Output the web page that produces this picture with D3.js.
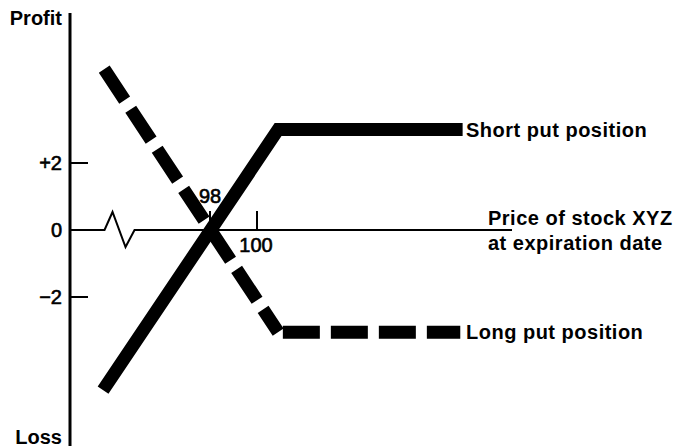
<!DOCTYPE html>
<html>
<head>
<meta charset="utf-8">
<script src="https://cdn.jsdelivr.net/npm/d3@7"></script>
<style>
  body { margin: 0; background: #fff; }
  svg { display: block; font-family: "Liberation Sans", Arial, Helvetica, sans-serif; }
  .num { font-size: 20px; stroke: #000; stroke-width: 0.6px; }
  .lab { font-size: 20px; font-weight: bold; letter-spacing: 0.5px; }
</style>
</head>
<body>
<svg id="chart" width="677" height="447"></svg>
<script>
// price of stock XYZ at expiration vs. profit/loss
const yTicks = [2, 0, -2];
const yTickLabels = ['+2', '0', '\u22122'];
const xTicks = [98, 100];
const xTickLabels = ['98', '100'];
const shortPut = [[93.45, -4.78], [100.9, 3], [108.75, 3]];
const longPutSlope = [[93.5, 4.8], [100.9, -3.05]];
const longPutFlat = [[101.1, -3.05], [108.65, -3.05]];
const axisBreak = 94.15;
const seriesLabels = ['Short put position', 'Long put position'];
const xTitle = ['Price of stock XYZ', 'at expiration date'];

const svg = d3.select('#chart');
const x = d3.scaleLinear().domain([98, 100]).range([210, 257]);
const y = d3.scaleLinear().domain([-2, 2]).range([297, 163]);
const x0 = 70;
const line = d3.line().x((d) => x(d[0])).y((d) => y(d[1]));

// y axis
svg.append('line')
    .attr('x1', x0).attr('x2', x0).attr('y1', 13).attr('y2', 446)
    .attr('stroke', '#000').attr('stroke-width', 3);

svg.selectAll('.ytick')
    .data(yTicks)
    .join('line')
    .attr('x1', x0).attr('x2', 88)
    .attr('y1', (d) => y(d)).attr('y2', (d) => y(d))
    .attr('stroke', '#000').attr('stroke-width', 2);

svg.selectAll('.ylab')
    .data(yTicks)
    .join('text')
    .attr('class', 'num')
    .attr('x', 62)
    .attr('y', (d) => y(d) + 7)
    .attr('text-anchor', 'end')
    .text((d, i) => yTickLabels[i]);

svg.append('text').attr('x', 62).attr('y', 25).attr('text-anchor', 'end')
    .style('font-size', '20px').style('font-weight', 'bold').text('Profit');
svg.append('text').attr('x', 62).attr('y', 444).attr('text-anchor', 'end')
    .style('font-size', '20px').style('font-weight', 'bold').text('Loss');

// x axis with break
const bx = x(axisBreak);
const zero = y(0);
svg.append('path')
    .attr('d', `M${x0},${zero}H${bx - 15}L${bx - 7},${zero - 18}L${bx + 6},${zero + 17}L${bx + 15},${zero}H512`)
    .attr('fill', 'none').attr('stroke', '#000').attr('stroke-width', 2);

svg.selectAll('.xtick')
    .data(xTicks)
    .join('line')
    .attr('x1', (d) => x(d)).attr('x2', (d) => x(d))
    .attr('y1', zero - 19).attr('y2', zero)
    .attr('stroke', '#000').attr('stroke-width', 2);

svg.append('text').attr('class', 'num').attr('x', x(98)).attr('y', zero - 27)
    .attr('text-anchor', 'middle').text(xTickLabels[0]);
svg.append('text').attr('class', 'num').attr('x', x(100) - 1).attr('y', zero + 22)
    .attr('text-anchor', 'middle').text(xTickLabels[1]);

svg.selectAll('.xtitle')
    .data(xTitle)
    .join('text')
    .attr('class', 'lab')
    .attr('x', 488)
    .attr('y', (d, i) => 225 + i * 25)
    .text((d) => d);

// positions
svg.append('path')
    .attr('d', line(longPutSlope))
    .attr('fill', 'none').attr('stroke', '#000').attr('stroke-width', 13)
    .attr('stroke-dasharray', '37,11');
svg.append('path')
    .attr('d', line(longPutFlat))
    .attr('fill', 'none').attr('stroke', '#000').attr('stroke-width', 13)
    .attr('stroke-dasharray', '37,11');
svg.append('path')
    .attr('d', line(shortPut))
    .attr('fill', 'none').attr('stroke', '#000').attr('stroke-width', 13)
    .attr('stroke-linejoin', 'miter');

svg.append('text').attr('class', 'lab').attr('x', 466).attr('y', y(3) + 7).text(seriesLabels[0]);
svg.append('text').attr('class', 'lab').attr('x', 466).attr('y', y(-3.05) + 7).text(seriesLabels[1]);
</script>
</body>
</html>
